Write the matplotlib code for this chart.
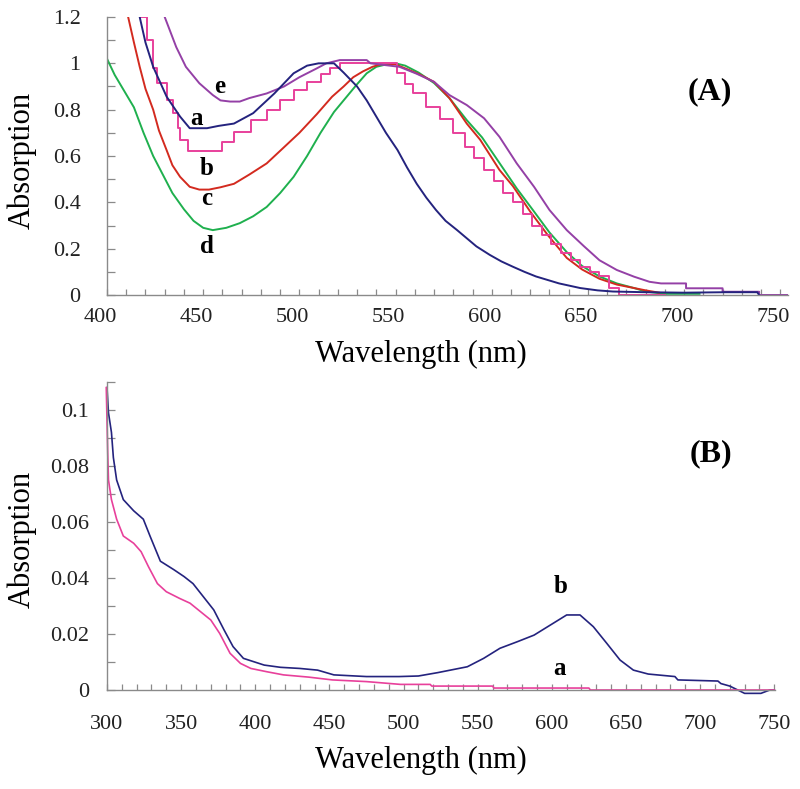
import matplotlib
matplotlib.use("Agg")
import matplotlib.pyplot as plt
import matplotlib.transforms as mtransforms
from matplotlib.ticker import MultipleLocator, FuncFormatter

plt.rcParams['font.family'] = ['Liberation Serif', 'DejaVu Serif']

# ---------------- Panel A data ----------------
wl_A_a = [417, 420, 424, 431, 438, 443, 448, 452, 458, 466, 476, 487, 497, 504, 510, 518, 523,
          530, 535, 540, 545, 551, 556, 561, 566, 571, 576, 582, 587, 592, 599, 605, 611, 617,
          623, 629, 635, 646, 655, 663, 680, 700, 721, 738, 739]
abs_A_a = [1.2, 1.09, 0.985, 0.856, 0.77, 0.72, 0.72, 0.72, 0.73, 0.74, 0.785, 0.87, 0.957, 0.99,
           1.0, 1.0, 0.96, 0.90, 0.84, 0.77, 0.70, 0.626, 0.55, 0.48, 0.42, 0.367, 0.32, 0.28,
           0.245, 0.21, 0.173, 0.145, 0.122, 0.10, 0.08, 0.065, 0.05, 0.03, 0.02, 0.015, 0.012,
           0.01, 0.012, 0.012, 0.0]

wl_A_b = [417, 420.6, 424, 426, 431, 434.5, 437, 438, 442, 460, 466, 475, 483, 490, 497, 504, 511,
          516, 521, 551, 555, 559, 566, 573, 580, 586, 591, 596, 601, 606, 611, 616, 621, 626, 631,
          636, 641, 646, 651, 656, 661, 666, 690]
abs_A_b = [1.2, 1.1, 0.98, 0.914, 0.84, 0.784, 0.72, 0.67, 0.62, 0.66, 0.705, 0.755, 0.80, 0.84,
           0.885, 0.92, 0.955, 0.98, 1.0, 0.96, 0.91, 0.87, 0.81, 0.76, 0.70, 0.64, 0.59, 0.54,
           0.49, 0.44, 0.40, 0.35, 0.30, 0.26, 0.22, 0.18, 0.15, 0.12, 0.10, 0.08, 0.03, 0.0, 0.0]

wl_A_c = [411, 414, 417, 420, 424, 427, 431, 434, 438, 443, 448, 453, 459, 466, 474, 483, 491, 500,
          509, 517, 523, 528, 533, 538, 544, 550, 556, 563, 570, 578, 587, 594, 604, 611, 620, 629,
          639, 647, 656, 665, 674, 680, 687]
abs_A_c = [1.2, 1.09, 0.985, 0.89, 0.80, 0.71, 0.625, 0.56, 0.51, 0.467, 0.455, 0.455, 0.465, 0.48,
           0.52, 0.568, 0.63, 0.70, 0.78, 0.856, 0.90, 0.94, 0.965, 0.985, 1.0, 0.995, 0.975, 0.95,
           0.92, 0.85, 0.74, 0.67, 0.54, 0.47, 0.36, 0.26, 0.16, 0.11, 0.07, 0.045, 0.03, 0.02, 0.01]

wl_A_d = [400, 404, 409, 414, 419, 424, 429, 434, 440, 445, 450, 455, 462, 469, 476, 483, 490, 497,
          504, 511, 518, 525, 530, 535, 540, 545, 550, 555, 562, 570, 578, 587, 595, 604, 613, 622,
          630, 639, 647, 656, 665, 674, 680, 690, 708]
abs_A_d = [1.02, 0.95, 0.88, 0.81, 0.70, 0.60, 0.52, 0.44, 0.37, 0.32, 0.29, 0.28, 0.29, 0.31, 0.34,
           0.38, 0.44, 0.51, 0.60, 0.70, 0.79, 0.86, 0.91, 0.957, 0.985, 0.995, 1.0, 0.99, 0.96,
           0.915, 0.85, 0.755, 0.68, 0.57, 0.46, 0.36, 0.27, 0.185, 0.125, 0.08, 0.05, 0.03, 0.015,
           0.005, 0.005]

wl_A_e = [430, 436, 441, 448, 455, 459, 464, 469, 474, 483, 492, 500, 509, 514, 521, 535, 537, 552,
          561, 570, 578, 587, 596, 604, 613, 622, 630, 639, 648, 656, 665, 674, 682, 688, 701, 701,
          720, 720, 739, 739, 754]
abs_A_e = [1.2, 1.07, 0.985, 0.914, 0.863, 0.84, 0.835, 0.835, 0.85, 0.87, 0.90, 0.94, 0.978, 1.0,
           1.014, 1.014, 1.0, 0.985, 0.955, 0.92, 0.863, 0.82, 0.763, 0.683, 0.568, 0.467, 0.367,
           0.28, 0.21, 0.15, 0.108, 0.079, 0.057, 0.05, 0.05, 0.029, 0.029, 0.014, 0.014, 0.0, 0.0]

# ---------------- Panel B data ----------------
wl_B_b = [300, 301, 303, 304.3, 306.5, 311, 318, 324.5, 329, 336, 345, 352, 358, 365, 372, 379, 385,
          392, 399, 406, 417, 430, 442, 453, 475, 497, 510, 523, 543, 554, 565, 577, 588, 599, 610,
          619, 628, 637, 646, 655, 665, 683, 685, 712, 714, 720, 730, 741, 747, 750]
abs_B_b = [0.108, 0.099, 0.092, 0.083, 0.075, 0.068, 0.064, 0.061, 0.055, 0.046, 0.043, 0.0405,
           0.038, 0.0333, 0.0286, 0.0214, 0.0155, 0.0113, 0.0101, 0.0089, 0.0081, 0.0077, 0.0071,
           0.0054, 0.0048, 0.0048, 0.005, 0.0062, 0.0083, 0.0113, 0.0149, 0.0173, 0.0196, 0.0232,
           0.0268, 0.0268, 0.0226, 0.0167, 0.0107, 0.0071, 0.0057, 0.0048, 0.0036, 0.0032, 0.0023,
           0.0014, -0.0012, -0.0012, 0.0, 0.0]

wl_B_a = [299.5, 300.5, 301, 303, 306.5, 311, 318, 323, 328, 334, 340, 349, 356, 363, 370, 376, 383,
          390, 397, 408, 419, 436, 452, 475, 498, 518, 519, 560, 561, 625, 626, 750]
abs_B_a = [0.108, 0.0845, 0.075, 0.068, 0.061, 0.055, 0.0524, 0.0494, 0.044, 0.038, 0.0351, 0.0327,
           0.031, 0.028, 0.025, 0.0202, 0.0131, 0.0095, 0.0077, 0.0065, 0.0054, 0.0046, 0.0036,
           0.003, 0.002, 0.002, 0.0014, 0.0014, 0.0007, 0.0007, 0.0, 0.0]

labels_A = ['a', 'b', 'c', 'd', 'e']
label_pos_A = [(446.5, 0.734), (451.8, 0.518), (451.8, 0.389), (451.8, 0.181), (458.8, 0.872)]
labels_B = ['a', 'b']
label_pos_B = [(605, 0.0054), (606, 0.0346)]

NAVY = '#24237e'
PINK = '#e8409b'
RED = '#d32a1f'
GREEN = '#1fb04e'
PURPLE = '#9440a6'
SPINE = '#8a8a8a'

fig = plt.figure(figsize=(8.0, 7.89), dpi=100)
W, H = 800, 789
axA = fig.add_axes([107 / W, 1 - 295 / H, 681 / W, 278 / H])
axB = fig.add_axes([107 / W, 1 - 690 / H, 668 / W, 308 / H])

lw = 1.4
axA.plot(wl_A_d, abs_A_d, color=GREEN, lw=lw)
axA.plot(wl_A_c, abs_A_c, color=RED, lw=lw)
axA.plot(wl_A_b, abs_A_b, color=PINK, lw=lw, drawstyle='steps-post')
axA.plot(wl_A_e, abs_A_e, color=PURPLE, lw=lw)
axA.plot(wl_A_a, abs_A_a, color=NAVY, lw=lw)

axB.plot(wl_B_b, abs_B_b, color=NAVY, lw=1.2, clip_on=False)
axB.plot(wl_B_a, abs_B_a, color=PINK, lw=1.2, clip_on=False)

axA.set_xlim(400, 754)
axA.set_ylim(0, 1.2)
axB.set_xlim(300, 750.5)
axB.set_ylim(0, 0.11)

fmt = FuncFormatter(lambda v, p: ('%g' % round(v, 4)))
for ax, xmaj, ymaj, ymin in [(axA, 50, 0.2, 0.1), (axB, 50, 0.02, 0.01)]:
    for s in ['top', 'right']:
        ax.spines[s].set_visible(False)
    for s in ['left', 'bottom']:
        ax.spines[s].set_color(SPINE)
        ax.spines[s].set_linewidth(1.0)
    ax.xaxis.set_major_locator(MultipleLocator(xmaj))
    ax.xaxis.set_minor_locator(MultipleLocator(10))
    ax.yaxis.set_major_locator(MultipleLocator(ymaj))
    ax.yaxis.set_minor_locator(MultipleLocator(ymin))
    ax.yaxis.set_major_formatter(fmt)
    ax.tick_params(which='both', direction='in', color=SPINE, width=0.9, labelsize=16,
                   labelcolor='#222222')
    ax.tick_params(axis='y', which='both', length=6)
    ax.tick_params(axis='x', which='both', length=4)
    ax.set_xlabel('Wavelength (nm)', fontsize=22)
    ax.set_ylabel('Absorption', fontsize=22)

axA.tick_params(axis='y', pad=19)
axA.tick_params(axis='x', pad=9)
axB.tick_params(axis='y', pad=13)
axB.tick_params(axis='x', pad=18)

# x tick labels in panel A sit slightly left of their ticks
offset = mtransforms.ScaledTranslation(-7 / 100, 0, fig.dpi_scale_trans)
for lab in axA.get_xticklabels():
    lab.set_transform(lab.get_transform() + offset)

axA.xaxis.set_label_coords((421 - 107) / 681, (295 - 340) / 278)
axA.yaxis.set_label_coords((37 - 107) / 681, (295 - 160) / 278)
axB.xaxis.set_label_coords((421 - 107) / 668, (690 - 746) / 308)
axB.yaxis.set_label_coords((37 - 107) / 668, (690 - 539) / 308)

for t, (x, y) in zip(labels_A, label_pos_A):
    axA.text(x, y, t, fontsize=18, fontweight='bold', ha='center', va='baseline')
for t, (x, y) in zip(labels_B, label_pos_B):
    axB.text(x, y, t, fontsize=18, fontweight='bold', ha='center', va='baseline')
axA.text(713.6, 0.876, '(A)', fontsize=23, fontweight='bold', ha='center', va='center')
axB.text(707, 0.0843, '(B)', fontsize=23, fontweight='bold', ha='center', va='center')

fig.savefig('out.png', dpi=100)
